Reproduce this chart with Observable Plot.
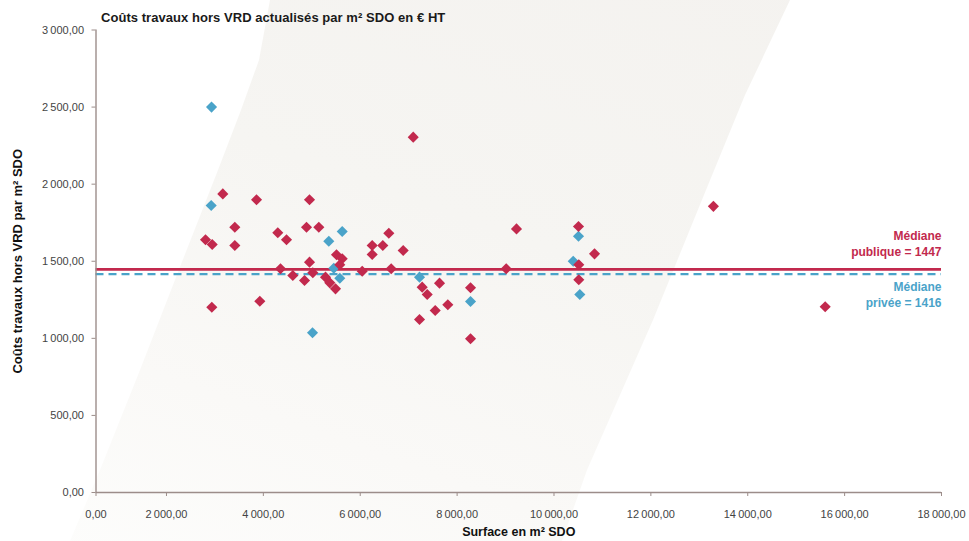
<!DOCTYPE html>
<html>
<head>
<meta charset="utf-8">
<script src="https://cdn.jsdelivr.net/npm/d3@7"></script>
<script src="https://cdn.jsdelivr.net/npm/@observablehq/plot@0.6"></script>
<style>
  html, body { margin: 0; padding: 0; background: #ffffff; }
  #wrap { position: relative; width: 969px; height: 541px; overflow: hidden; font-family: "Liberation Sans", Arial, sans-serif; }
  #band { position: absolute; left: 0; top: 0; width: 969px; height: 541px;
    background: linear-gradient(200deg, #f4f2ef 0%, #f6f5f2 45%, #faf9f7 75%, #fdfdfc 100%);
    clip-path: polygon(270px 0px, 259px 60px, 241px 110px, 218px 170px, 180px 267px, 140px 370px, 100px 470px, 70px 541px, 562px 541px, 587px 470px, 653px 320px, 706px 190px, 745px 95px, 790px 0px); }
  #title { position: absolute; left: 101px; top: 11px; font-size: 13px; font-weight: bold; color: #1a1a1a; letter-spacing: 0.05px; line-height: 1; white-space: nowrap; }
  #chart { position: absolute; left: 0; top: 0; }
  #chart svg { background: transparent; }
</style>
</head>
<body>
<div id="wrap">
  <div id="band"></div>
  <div id="chart"></div>
  <div id="title">Coûts travaux hors VRD actualisés par m² SDO en € HT</div>
</div>
<script>
// ---- data ----
const publicX = [3163, 3859, 4953, 3411, 4891, 5145, 2806, 2944, 3411, 4298, 4478, 4953, 4354, 4608, 4850, 5021, 2936, 3927,
  5510, 5628, 5578, 5283, 5372, 5490, 6041, 6590, 6247, 6466, 6247, 6887, 6639, 7279, 7383, 7637, 7808, 7548, 7224,
  8277, 8277, 7094, 9226, 9014, 10506, 10837, 10512, 10512, 13291, 15599];
const publicY = [1937, 1899, 1899, 1721, 1721, 1721, 1639, 1609, 1602, 1685, 1639, 1494, 1451, 1408, 1375, 1425, 1202, 1241,
  1542, 1516, 1477, 1397, 1360, 1321, 1435, 1682, 1602, 1602, 1544, 1570, 1451, 1332, 1284, 1358, 1218, 1181, 1122,
  1328, 997, 2305, 1710, 1451, 1725, 1548, 1477, 1380, 1856, 1205];
const privateX = [2930, 2923, 5351, 5628, 5015, 5454, 5578, 7224, 8277, 10506, 10397, 10533];
const privateY = [2500, 1862, 1630, 1693, 1036, 1455, 1390, 1397, 1239, 1662, 1500, 1284];

const medianValues = [1447, 1416];
const medianLabels = ["Médiane\npublique = 1447", "Médiane\nprivée = 1416"];
const seriesNames = ["publique", "privée"];

const xAxisStart = 545; // where the reference's origin sits on the surface scale
const xTicks = [xAxisStart, 2000, 4000, 6000, 8000, 10000, 12000, 14000, 16000, 18000];
const xTickLabels = ["0,00", "2\u202f000,00", "4\u202f000,00", "6\u202f000,00", "8\u202f000,00", "10\u202f000,00", "12\u202f000,00", "14\u202f000,00", "16\u202f000,00", "18\u202f000,00"];
const yTicks = [0, 500, 1000, 1500, 2000, 2500, 3000];
const yTickLabels = ["0,00", "500,00", "1\u202f000,00", "1\u202f500,00", "2\u202f000,00", "2\u202f500,00", "3\u202f000,00"];

// ---- styles ----
const RED = "#c2294d";
const BLUE = "#4aa3c9";
const AXIS = "#9c8d8a";

const publicPts = publicX.map((x, i) => ({x, y: publicY[i]}));
const privatePts = privateX.map((x, i) => ({x, y: privateY[i]}));
const medians = medianValues.map((v, i) => ({v, label: medianLabels[i], name: seriesNames[i]}));

const tickFont = {fontSize: 11, fontFamily: "Liberation Sans, Arial, sans-serif"};

const chart = Plot.plot({
  width: 969,
  height: 541,
  marginLeft: 95.5,
  marginRight: 28,
  marginTop: 29.5,
  marginBottom: 49,
  style: {background: "transparent", fontFamily: "Liberation Sans, Arial, sans-serif", color: "#444"},
  x: {domain: [xAxisStart, 18000]},
  y: {domain: [0, 3000]},
  marks: [
    // median lines
    Plot.ruleY([medians[0]], {y: "v", stroke: RED, strokeWidth: 2.6}),
    Plot.ruleY([medians[1]], {y: "v", stroke: BLUE, strokeWidth: 2.2, strokeDasharray: "8,5"}),
    // axes
    Plot.axisY({ticks: yTicks, tickFormat: d => yTickLabels[yTicks.indexOf(d)], tickSize: 4, tickPadding: 8,
      stroke: AXIS, fill: "#444", ...tickFont, label: null}),
    Plot.axisX({ticks: xTicks, tickFormat: d => xTickLabels[xTicks.indexOf(d)], tickSize: 4, tickPadding: 14,
      stroke: AXIS, fill: "#444", ...tickFont, label: null}),
    Plot.ruleX([xAxisStart], {stroke: AXIS, strokeWidth: 1.4}),
    Plot.ruleY([0], {stroke: AXIS, strokeWidth: 1.4}),
    // axis titles
    Plot.text(["Coûts travaux hors VRD par m² SDO"], {frameAnchor: "left", dx: -78, rotate: -90, textAnchor: "middle",
      fontWeight: "bold", fontSize: 13, fill: "#111"}),
    Plot.text(["Surface en m² SDO"], {frameAnchor: "bottom", dy: 43, textAnchor: "middle",
      fontWeight: "bold", fontSize: 12.5, fill: "#111"}),
    // points
    Plot.dot(privatePts, {x: "x", y: "y", symbol: "diamond2", r: 5, fill: BLUE, stroke: null}),
    Plot.dot(publicPts, {x: "x", y: "y", symbol: "diamond2", r: 5, fill: RED, stroke: null}),
    // median labels
    Plot.text([medians[0]], {x: () => 18000, y: "v", text: "label", textAnchor: "end", lineAnchor: "bottom", dy: -13,
      fill: RED, fontWeight: "bold", fontSize: 12, lineHeight: 1.35}),
    Plot.text([medians[1]], {x: () => 18000, y: "v", text: "label", textAnchor: "end", lineAnchor: "top", dy: 5,
      fill: BLUE, fontWeight: "bold", fontSize: 12, lineHeight: 1.35})
  ]
});
document.getElementById("chart").appendChild(chart);
</script>
</body>
</html>
